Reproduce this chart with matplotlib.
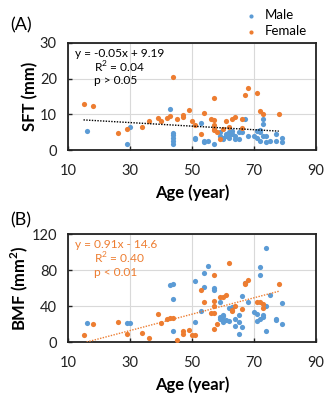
import numpy as np
import matplotlib.pyplot as plt

plt.rcParams['font.family'] = ['Lato', 'DejaVu Sans']
plt.rcParams['mathtext.fontset'] = 'custom'
plt.rcParams['mathtext.rm'] = 'Lato'
plt.rcParams['mathtext.bf'] = 'Lato:bold'

# Panel A: SFT (mm) vs age
sft_female_age = [15, 18, 26, 29, 34, 36, 39, 40, 42, 43, 44, 45, 47, 47, 49, 50, 51, 53, 54, 56,
                  57, 57, 57, 57, 57, 58, 59, 60, 61, 62, 63, 64, 66, 66, 67, 68, 71, 72, 73, 78]
sft_female = [13, 12.3, 4.8, 5.8, 6.4, 8, 9, 8, 9, 9.5, 20.4, 8.6, 9.2, 9.7, 11.3, 8, 7, 4.5, 10.3, 8.8,
              8.3, 14.6, 7, 6, 5.5, 5, 3, 6, 8, 6.5, 8.8, 9.3, 8.7, 6.3, 15.4, 17.4, 16, 11, 10.2, 10]
sft_male_age = [16, 29, 30, 43, 44, 44, 44, 44, 44, 51, 51, 53, 54, 54, 55, 57, 59, 59, 60, 60,
                61, 62, 62, 62, 63, 63, 64, 64, 65, 65, 66, 67, 68, 70, 71, 72, 72, 73, 73, 73,
                74, 74, 75, 77, 77, 79, 79, 71, 72, 61]
sft_male = [5.2, 1.8, 6.5, 11.6, 4.8, 4.3, 3.5, 2.5, 1.8, 3.3, 3, 7.5, 2.2, 2.6, 2.4, 1.8, 4, 5, 3.5, 3,
            4.5, 3.5, 5, 4.2, 4.5, 5.2, 3, 4, 5, 3.2, 5, 8.8, 4, 4, 3.5, 2.5, 5, 8.6, 7.2, 4,
            2.2, 4, 2.5, 4.5, 2.4, 3.5, 2.2, 5.2, 5.5, 3.8]
sft_fit = (-0.05, 9.19)
sft_fit_range = [15, 78]

# Panel B: BMF (mm2) vs age
bmf_female_age = [15, 18, 26, 29, 34, 36, 39, 40, 42, 43, 44, 45, 47, 47, 49, 50, 51, 53, 54, 56,
                  57, 57, 57, 57, 57, 58, 59, 60, 61, 62, 63, 64, 66, 67, 67, 68, 71, 72, 73, 73, 78, 63]
bmf_female = [8, 20, 22, 9, 10, 4, 31, 21, 26, 27, 27, 2, 12, 9, 13, 8, 8, 58, 44, 32,
              75, 46, 40, 32, 14, 20, 50, 50, 52, 88, 36, 40, 37, 64, 66, 69, 45, 44, 42, 38, 65, 35]
bmf_male_age = [16, 29, 30, 43, 44, 44, 44, 51, 51, 53, 54, 54, 55, 57, 57, 59, 59, 59, 60, 60,
                60, 61, 62, 62, 63, 64, 64, 65, 65, 65, 66, 66, 67, 68, 70, 71, 71, 72, 72, 72,
                73, 73, 74, 74, 74, 75, 77, 77, 79, 79, 60]
bmf_male = [21, 21, 21, 63, 65, 48, 12, 68, 22, 35, 77, 61, 84, 60, 58, 44, 28, 26, 30, 24,
            22, 24, 38, 23, 39, 26, 18, 22, 30, 9, 51, 17, 66, 44, 33, 31, 23, 83, 75, 26,
            30, 28, 40, 105, 12, 52, 26, 24, 43, 20, 29]
bmf_fit = (0.91, -14.6)
bmf_fit_range = [16, 78]

blue = '#5B9BD5'
orange = '#ED7D31'

fig = plt.figure(figsize=(3.3, 4.0), dpi=100)
axA = fig.add_axes([68/330, 1 - 150/400, 248/330, 107/400])
axB = fig.add_axes([68/330, 1 - 342/400, 248/330, 108/400])


def style(ax, ylim, yticks, ylabel):
    ax.set_xlim(10, 90)
    ax.set_xticks([10, 30, 50, 70, 90])
    ax.set_ylim(*ylim)
    ax.set_yticks(yticks)
    ax.grid(True, color='#d9d9d9', linewidth=0.8)
    ax.set_axisbelow(True)
    for s in ax.spines.values():
        s.set_linewidth(1.3)
        s.set_color('#222222')
    ax.tick_params(direction='in', length=3, labelsize=10.5, colors='#222222', width=1)
    ax.tick_params(axis='x', pad=10)
    ax.tick_params(axis='y', pad=8)
    ax.set_xlabel('Age (year)', fontsize=12, fontweight='bold', labelpad=5)
    ax.set_ylabel(ylabel, fontsize=12, fontweight='bold', labelpad=1)


ms = 14
axA.scatter(sft_male_age, sft_male, s=ms, color=blue, label='Male', zorder=3, linewidths=0)
axA.scatter(sft_female_age, sft_female, s=ms, color=orange, label='Female', zorder=3, linewidths=0)
xa = np.array(sft_fit_range)
axA.plot(xa, sft_fit[0] * xa + sft_fit[1], ls=(0, (1, 1)), color='black', lw=1.0, zorder=4)
style(axA, (0, 30), [0, 10, 20, 30], 'SFT (mm)')
axA.text(0.03, 0.9, 'y = -0.05x + 9.19', transform=axA.transAxes, fontsize=8.6, va='center')
axA.text(0.105, 0.77, 'R$^2$ = 0.04', transform=axA.transAxes, fontsize=8.6, va='center')
axA.text(0.105, 0.65, 'p > 0.05', transform=axA.transAxes, fontsize=8.6, va='center')

axB.scatter(bmf_male_age, bmf_male, s=ms, color=blue, zorder=3, linewidths=0)
axB.scatter(bmf_female_age, bmf_female, s=ms, color=orange, zorder=3, linewidths=0)
xb = np.array(bmf_fit_range)
axB.plot(xb, bmf_fit[0] * xb + bmf_fit[1], ls=(0, (1, 1)), color=orange, lw=1.0, zorder=4)
style(axB, (0, 120), [0, 40, 80, 120], r'BMF (mm$^\mathbf{2}$)')
axB.text(0.03, 0.9, 'y = 0.91x - 14.6', transform=axB.transAxes, fontsize=8.6, va='center', color=orange)
axB.text(0.105, 0.77, 'R$^2$ = 0.40', transform=axB.transAxes, fontsize=8.6, va='center', color=orange)
axB.text(0.105, 0.64, 'p < 0.01', transform=axB.transAxes, fontsize=8.6, va='center', color=orange)

fig.legend(*axA.get_legend_handles_labels(), loc='upper left', bbox_to_anchor=(232/330, 1.0),
           frameon=False, fontsize=9.5, handletextpad=0.3, labelspacing=0.3, borderaxespad=0.3,
           handlelength=1.5, markerscale=0.8)

fig.text(10/330, 1 - 25/400, '(A)', fontsize=13, va='center')
fig.text(10/330, 1 - 220/400, '(B)', fontsize=13, va='center')

fig.savefig('out.png', dpi=100)
